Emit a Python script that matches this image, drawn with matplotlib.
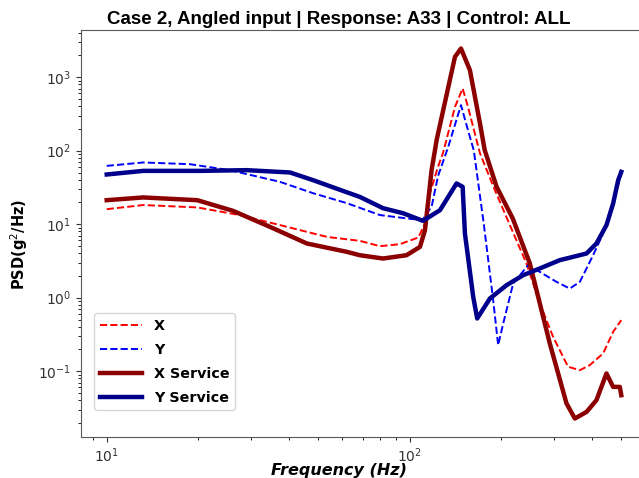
import numpy as np
import matplotlib
matplotlib.use("Agg")
import matplotlib.pyplot as plt

# PSD curves read per channel (frequency in Hz, PSD in g^2/Hz)
freq_x = [10, 13.2, 19.9, 27.5, 39.4, 53.4, 68.5, 79.8, 92.9, 106.9, 112.4, 116.7,
          124.1, 128.9, 141.2, 149.7, 155.9, 170.7, 190, 214.4, 243.2, 269.2, 297.8,
          333.6, 364.9, 393.6, 435.5, 470, 500]
psd_x = [16.0, 18.2, 16.9, 13.3, 9.19, 6.71, 5.93, 5.02, 5.34, 6.59, 10.2, 26.2,
         60.2, 92.5, 394, 702, 394, 92.5, 31, 9.7, 2.92, 0.834, 0.293,
         0.115, 0.103, 0.121, 0.174, 0.343, 0.494]

freq_y = [10, 13.2, 18.8, 25.5, 37.3, 48.0, 62.1, 79.8, 102.6, 110.7, 113.8, 118.2,
          124.1, 133.9, 147.8, 155.9, 163, 176, 188.8, 196.1, 203.8, 219.8, 246.3,
          269.2, 305.6, 338, 364.9, 403.6, 435.5, 470, 500]
psd_y = [62.1, 69.1, 65.5, 54.3, 37.7, 26.4, 19.3, 13.3, 11.7, 11.6, 14.0, 17.2,
         45, 110, 416, 190, 100, 9.7, 0.925, 0.226, 0.446, 1.56, 2.77,
         2.24, 1.64, 1.33, 1.64, 3.78, 7.47, 20, 48]

freq_xs = [10, 13.2, 19.9, 26.1, 34.6, 45.8, 62.1, 68.5, 81.7, 97.7, 108.2, 112.4,
           115.3, 118.2, 121.3, 122.8, 141.2, 147.8, 158.2, 170.7, 177, 193.8, 219,
           249.5, 290.4, 329.7, 351.3, 384.0, 414.0, 446.7, 470, 494.5, 500]
psd_xs = [21.2, 23.1, 21.2, 15.2, 9.19, 5.46, 4.20, 3.78, 3.41, 3.78, 4.91, 8.28,
          21.2, 54.3, 102, 139, 1888, 2455, 1245, 237, 102, 32.2, 12,
          2.92, 0.238, 0.0364, 0.0227, 0.0279, 0.0403, 0.0931, 0.0611, 0.0611, 0.0471]

freq_ys = [10, 13.2, 20.3, 29.0, 40.3, 48.0, 60.2, 68.5, 81.7, 95.1, 110.7, 126.0,
           142.9, 149.7, 152.3, 162.2, 167.2, 184.2, 209.1, 237.0, 269.2, 313.4,
           384.0, 414.0, 446.7, 470.0, 488.4, 500]
psd_ys = [47.4, 53.1, 53.1, 54.3, 50.5, 39.7, 28.4, 23.5, 16.5, 14.1, 11.1, 15.5,
          35.8, 32.2, 7.47, 1.03, 0.521, 0.975, 1.48, 2.02, 2.50, 3.24,
          3.99, 5.46, 9.69, 19.1, 39.7, 51.5]

W, H = 639, 478
fig = plt.figure(figsize=(W / 100, H / 100), dpi=100)
# axes run a little past the right edge of the figure
ax = fig.add_axes([81 / W, 1 - 437 / H, (647 - 81) / W, (437 - 30) / H])

ax.loglog(freq_x, psd_x, color="red", linestyle="--", linewidth=1.4, label="X")
ax.loglog(freq_y, psd_y, color="blue", linestyle="--", linewidth=1.4, label="Y")
ax.loglog(freq_xs, psd_xs, color="darkred", linewidth=3.2, label="X Service")
ax.loglog(freq_ys, psd_ys, color="darkblue", linewidth=3.2, label="Y Service")

for s in ax.spines.values():
    s.set_color("0.35")
ax.tick_params(labelsize=10, colors="0.2")

cx = (339 - 81) / (647 - 81)
ax.set_title("Case 2, Angled input | Response: A33 | Control: ALL",
             family="Liberation Sans", fontweight="bold", fontsize=13.5, x=cx, pad=4)
ax.set_xlabel("Frequency (Hz)", fontweight="bold", fontstyle="italic", fontsize=11.5)
ax.xaxis.set_label_coords(cx, -0.065)
ax.set_ylabel("PSD(g$^2$/Hz)", fontweight="bold", fontsize=10.5)
ax.yaxis.set_label_coords(-0.09, 0.474)

ax.legend(loc="lower left", bbox_to_anchor=(0.01, 0.048), labelspacing=0.7,
          handlelength=3.0, prop={"weight": "bold", "size": 10.3})

fig.savefig("out.png", dpi=100)
